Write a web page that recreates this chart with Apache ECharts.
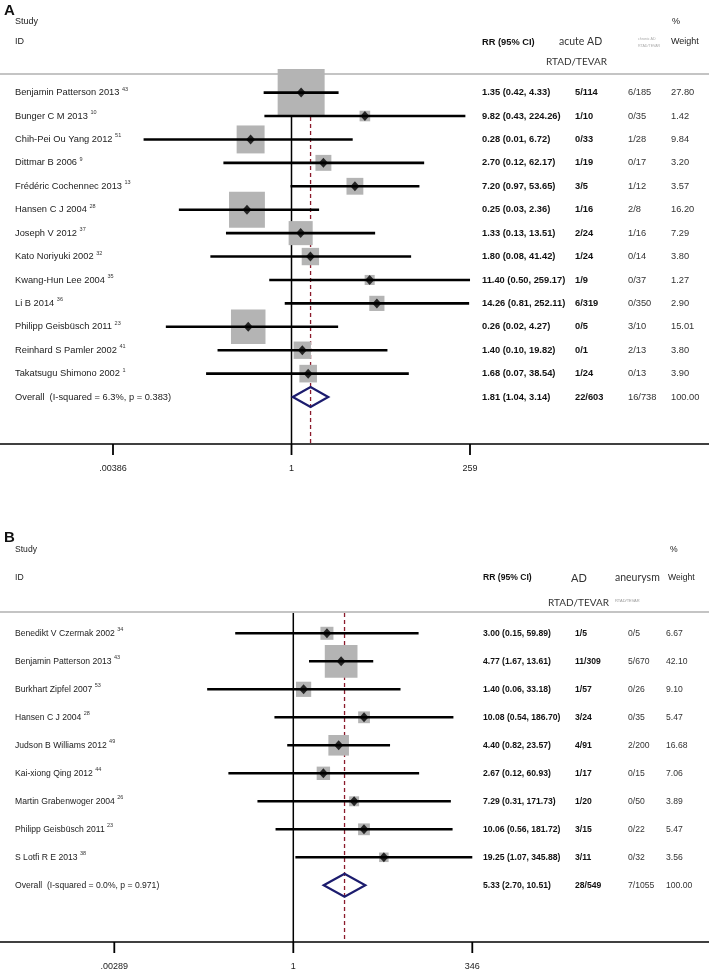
<!DOCTYPE html>
<html>
<head>
<meta charset="utf-8">
<script src="https://cdn.jsdelivr.net/npm/echarts@6/dist/echarts.min.js"></script>
<style>html,body{margin:0;padding:0;background:#fff}#c{width:709px;height:970px}</style>
</head>
<body>
<div id="c"></div>
<script>
// ---------- Panel A data ----------
const A_studies = ['Benjamin Patterson 2013','Bunger C M 2013','Chih-Pei Ou Yang 2012','Dittmar B 2006','Frédéric Cochennec 2013','Hansen C J 2004','Joseph V 2012','Kato Noriyuki 2002','Kwang-Hun Lee 2004','Li B 2014','Philipp Geisbüsch 2011','Reinhard S Pamler 2002','Takatsugu Shimono 2002'];
const A_refs = ['43','10','51','9','13','28','37','32','35','36','23','41','1'];
const A_rr = [1.35, 9.82, 0.28, 2.70, 7.20, 0.25, 1.33, 1.80, 11.40, 14.26, 0.26, 1.40, 1.68];
const A_lo = [0.42, 0.43, 0.01, 0.12, 0.97, 0.03, 0.13, 0.08, 0.50, 0.81, 0.02, 0.10, 0.07];
const A_hi = [4.33, 224.26, 6.72, 62.17, 53.65, 2.36, 13.51, 41.42, 259.17, 252.11, 4.27, 19.82, 38.54];
const A_ev1 = ['5/114','1/10','0/33','1/19','3/5','1/16','2/24','1/24','1/9','6/319','0/5','0/1','1/24'];
const A_ev2 = ['6/185','0/35','1/28','0/17','1/12','2/8','1/16','0/14','0/37','0/350','3/10','2/13','0/13'];
const A_wt = [27.80, 1.42, 9.84, 3.20, 3.57, 16.20, 7.29, 3.80, 1.27, 2.90, 15.01, 3.80, 3.90];
const A_overallLabel = 'Overall  (I-squared = 6.3%, p = 0.383)';
const A_overall = [1.81, 1.04, 3.14];          // RR, lower, upper
const A_overallEvents = ['22/603', '16/738'];
const A_overallWeight = [100.00];
const A_ticks = [0.00386, 1, 259];
const A_tickLabels = ['.00386', '1', '259'];

// ---------- Panel B data ----------
const B_studies = ['Benedikt V Czermak 2002','Benjamin Patterson 2013','Burkhart Zipfel 2007','Hansen C J 2004','Judson B Williams 2012','Kai-xiong Qing 2012','Martin Grabenwoger 2004','Philipp Geisbüsch 2011','S Lotfi R E 2013'];
const B_refs = ['34','43','53','28','49','44','26','23','38'];
const B_rr = [3.00, 4.77, 1.40, 10.08, 4.40, 2.67, 7.29, 10.06, 19.25];
const B_lo = [0.15, 1.67, 0.06, 0.54, 0.82, 0.12, 0.31, 0.56, 1.07];
const B_hi = [59.89, 13.61, 33.18, 186.70, 23.57, 60.93, 171.73, 181.72, 345.88];
const B_ev1 = ['1/5','11/309','1/57','3/24','4/91','1/17','1/20','3/15','3/11'];
const B_ev2 = ['0/5','5/670','0/26','0/35','2/200','0/15','0/50','0/22','0/32'];
const B_wt = [6.67, 42.10, 9.10, 5.47, 16.68, 7.06, 3.89, 5.47, 3.56];
const B_overallLabel = 'Overall  (I-squared = 0.0%, p = 0.971)';
const B_overall = [5.33, 2.70, 10.51];
const B_overallEvents = ['28/549', '7/1055'];
const B_overallWeight = [100.00];
const B_ticks = [0.00289, 1, 346];
const B_tickLabels = ['.00289', '1', '346'];

// ---------- layout ----------
const W = 709;
const FONT = "'Liberation Sans', Arial, sans-serif";
const CAL = "Lato, 'Open Sans', sans-serif";

const LAYOUT = [
  {gridTop: 75, axisY: 444, row0: 92.6, pitch: 23.42, tickPx: [113, 470], font: 9.3,
   boxScale: 8.91, diamondHalf: 10, cols: [15, 482, 575, 628, 671], tickLabelDy: 25},
  {gridTop: 613, axisY: 942, row0: 633.3, pitch: 28, tickPx: [114.3, 472.3], font: 8.6,
   boxScale: 5.04, diamondHalf: 11.5, cols: [15, 483, 575, 628, 666], tickLabelDy: 25}
];

const PANELS = [
  {studies: A_studies, refs: A_refs, rr: A_rr, lo: A_lo, hi: A_hi, ev1: A_ev1, ev2: A_ev2, wt: A_wt,
   overallLabel: A_overallLabel, overall: A_overall, overallEvents: A_overallEvents, overallWeight: A_overallWeight,
   ticks: A_ticks, tickLabels: A_tickLabels},
  {studies: B_studies, refs: B_refs, rr: B_rr, lo: B_lo, hi: B_hi, ev1: B_ev1, ev2: B_ev2, wt: B_wt,
   overallLabel: B_overallLabel, overall: B_overall, overallEvents: B_overallEvents, overallWeight: B_overallWeight,
   ticks: B_ticks, tickLabels: B_tickLabels}
];

const fmtCI = (r, l, h) => r.toFixed(2) + ' (' + l.toFixed(2) + ', ' + h.toFixed(2) + ')';

const grids = [], xAxes = [], yAxes = [], series = [];

PANELS.forEach((d, i) => {
  const L = LAYOUT[i];
  const n = d.rr.length;
  const lt0 = Math.log10(d.ticks[0]), lt1 = Math.log10(d.ticks[d.ticks.length - 1]);
  const dpp = (lt1 - lt0) / (L.tickPx[1] - L.tickPx[0]);
  const xmin = Math.pow(10, lt0 - L.tickPx[0] * dpp);
  const xmax = Math.pow(10, lt1 + (W - L.tickPx[1]) * dpp);
  const ymin = -(L.row0 - L.gridTop) / L.pitch;
  const ymax = ymin + (L.axisY - L.gridTop) / L.pitch;

  grids.push({left: 0, width: W, top: L.gridTop, height: L.axisY - L.gridTop, containLabel: false});
  xAxes.push({gridIndex: i, type: 'log', min: xmin, max: xmax,
    axisLine: {show: true, onZero: false, lineStyle: {color: '#000', width: 1.6}},
    axisTick: {show: false}, axisLabel: {show: false}, splitLine: {show: false}});
  yAxes.push({gridIndex: i, type: 'value', inverse: true, min: ymin, max: ymax, show: false});

  // reference lines: null (1) and overall estimate
  series.push({
    type: 'custom', xAxisIndex: i, yAxisIndex: i, z: 1, silent: true, clip: false,
    data: [[1, 0], [d.overall[0], 0]],
    renderItem: (p, api) => {
      const t = api.coord([api.value(0), ymin]);
      const b = api.coord([api.value(0), ymax]);
      const dashed = p.dataIndex === 1;
      return {type: 'line', shape: {x1: t[0], y1: t[1], x2: b[0], y2: b[1]},
        style: dashed ? {stroke: '#8b1a2b', lineWidth: 1.3, lineDash: [4, 3]} : {stroke: '#000', lineWidth: 1.5}};
    }
  });

  // weight boxes
  series.push({
    type: 'scatter', xAxisIndex: i, yAxisIndex: i, z: 2, silent: true, symbol: 'rect',
    data: d.rr.map((v, k) => [v, k, d.wt[k]]),
    symbolSize: val => L.boxScale * Math.sqrt(val[2]),
    itemStyle: {color: '#b4b4b4', opacity: 1}
  });

  // confidence intervals
  series.push({
    type: 'custom', xAxisIndex: i, yAxisIndex: i, z: 3, silent: true, clip: false,
    data: d.lo.map((l, k) => [l, d.hi[k], k]),
    encode: {x: [0, 1], y: 2},
    renderItem: (p, api) => {
      const y = api.value(2);
      const a = api.coord([api.value(0), y]);
      const b = api.coord([api.value(1), y]);
      return {type: 'line', shape: {x1: a[0], y1: a[1], x2: b[0], y2: b[1]},
        style: {stroke: '#000', lineWidth: 2.6}};
    }
  });

  // point estimates
  series.push({
    type: 'scatter', xAxisIndex: i, yAxisIndex: i, z: 4, silent: true, symbol: 'diamond',
    symbolSize: [9, 10],
    data: d.rr.map((v, k) => [v, k]),
    itemStyle: {color: '#000'}
  });

  // overall diamond
  series.push({
    type: 'custom', xAxisIndex: i, yAxisIndex: i, z: 4, silent: true, clip: false,
    data: [[d.overall[1], d.overall[0], d.overall[2], n]],
    encode: {x: [0, 1, 2], y: 3},
    renderItem: (p, api) => {
      const row = api.value(3);
      const l = api.coord([api.value(0), row]);
      const c = api.coord([api.value(1), row]);
      const r = api.coord([api.value(2), row]);
      const h = L.diamondHalf;
      return {type: 'polygon', shape: {points: [[l[0], l[1]], [c[0], c[1] - h], [r[0], r[1]], [c[0], c[1] + h]]},
        style: {fill: 'none', stroke: '#1c1c6e', lineWidth: 2.2}};
    }
  });

  // table text
  const rows = [];
  for (let k = 0; k <= n; k++) rows.push([1, k]);
  series.push({
    type: 'custom', xAxisIndex: i, yAxisIndex: i, z: 6, silent: true, clip: false,
    data: rows,
    renderItem: (p, api) => {
      const k = api.value(1);
      const y = api.coord([1, k])[1];
      const isOverall = k === n;
      const base = {fontFamily: FONT, fontSize: L.font, verticalAlign: 'middle', align: 'left'};
      const nameText = isOverall ? '{n|' + d.overallLabel + '}' : '{n|' + d.studies[k] + '} {s|' + d.refs[k] + '}';
      const ci = isOverall ? fmtCI(d.overall[0], d.overall[1], d.overall[2]) : fmtCI(d.rr[k], d.lo[k], d.hi[k]);
      const e1 = isOverall ? d.overallEvents[0] : d.ev1[k];
      const e2 = isOverall ? d.overallEvents[1] : d.ev2[k];
      const w = (isOverall ? d.overallWeight[0] : d.wt[k]).toFixed(2);
      return {type: 'group', children: [
        {type: 'text', x: L.cols[0], y: y, style: Object.assign({}, base, {text: nameText, fill: '#222',
          rich: {n: {fontFamily: FONT, fontSize: L.font, fill: '#222', lineHeight: 13},
                 s: {fontFamily: FONT, fontSize: 5.5, fill: '#333', verticalAlign: 'top', lineHeight: 6}}})},
        {type: 'text', x: L.cols[1], y: y, style: Object.assign({}, base, {text: ci, fill: '#111', fontWeight: 'bold'})},
        {type: 'text', x: L.cols[2], y: y, style: Object.assign({}, base, {text: e1, fill: '#111', fontWeight: 'bold'})},
        {type: 'text', x: L.cols[3], y: y, style: Object.assign({}, base, {text: e2, fill: '#333'})},
        {type: 'text', x: L.cols[4], y: y, style: Object.assign({}, base, {text: w, fill: '#333'})}
      ]};
    }
  });

  // axis ticks and labels
  series.push({
    type: 'custom', xAxisIndex: i, yAxisIndex: i, z: 6, silent: true, clip: false,
    data: d.ticks.map(v => [v, ymax]),
    renderItem: (p, api) => {
      const pt = api.coord([api.value(0), ymax]);
      return {type: 'group', children: [
        {type: 'line', shape: {x1: pt[0], y1: pt[1], x2: pt[0], y2: pt[1] + 11}, style: {stroke: '#000', lineWidth: 1.8}},
        {type: 'text', x: pt[0], y: pt[1] + L.tickLabelDy, style: {text: d.tickLabels[p.dataIndex], fontFamily: FONT, fontSize: 9,
          fill: '#222', align: 'center', verticalAlign: 'middle'}}
      ]};
    }
  });
});

// ---------- headers (static text) ----------
function T(text, x, y, o) {
  return {type: 'text', x: x, y: y, silent: true,
    style: Object.assign({text: text, fontFamily: FONT, fontSize: 9.3, fill: '#222', align: 'left', verticalAlign: 'middle'}, o || {})};
}
function HL(y) {
  return {type: 'line', silent: true, z: 0, shape: {x1: 0, y1: y, x2: W, y2: y}, style: {stroke: '#b0b0b0', lineWidth: 1.5}};
}
const graphics = [
  // Panel A
  T('A', 4, 11, {fontSize: 15, fontWeight: 'bold', fill: '#111'}),
  T('Study', 15, 22, {fontSize: 9}),
  T('%', 672, 22, {fontSize: 9}),
  T('ID', 15, 42, {fontSize: 9}),
  T('RR (95% CI)', 482, 42, {fontWeight: 'bold', fill: '#111'}),
  T('acute AD', 559, 42, {fontFamily: CAL, fontSize: 10.5, fill: '#333'}),
  T('chronic AD', 638, 39, {fontSize: 3.6, fill: '#aaa'}),
  T('RTAD/TEVAR', 638, 46, {fontSize: 3.6, fill: '#aaa'}),
  T('Weight', 671, 42, {fontSize: 9}),
  T('RTAD/TEVAR', 546, 62, {fontFamily: CAL, fontSize: 10, fill: '#333'}),
  HL(74),
  // Panel B
  T('B', 4, 538, {fontSize: 15, fontWeight: 'bold', fill: '#111'}),
  T('Study', 15, 550, {fontSize: 8.6}),
  T('%', 670, 550, {fontSize: 8.6}),
  T('ID', 15, 578, {fontSize: 8.6}),
  T('RR (95% CI)', 483, 578, {fontSize: 8.6, fontWeight: 'bold', fill: '#111'}),
  T('AD', 571, 578, {fontFamily: CAL, fontSize: 11, fill: '#333'}),
  T('aneurysm', 615, 578, {fontFamily: CAL, fontSize: 10.5, fill: '#333'}),
  T('Weight', 668, 578, {fontSize: 8.6}),
  T('RTAD/TEVAR', 548, 602.5, {fontFamily: CAL, fontSize: 10, fill: '#333'}),
  T('RTAD/TEVAR', 615, 601, {fontSize: 4, fill: '#999'}),
  HL(612)
];

const chart = echarts.init(document.getElementById('c'), null, {renderer: 'canvas'});
chart.setOption({
  animation: false,
  backgroundColor: '#fff',
  grid: grids,
  xAxis: xAxes,
  yAxis: yAxes,
  series: series,
  graphic: {elements: graphics}
});
</script>
</body>
</html>
